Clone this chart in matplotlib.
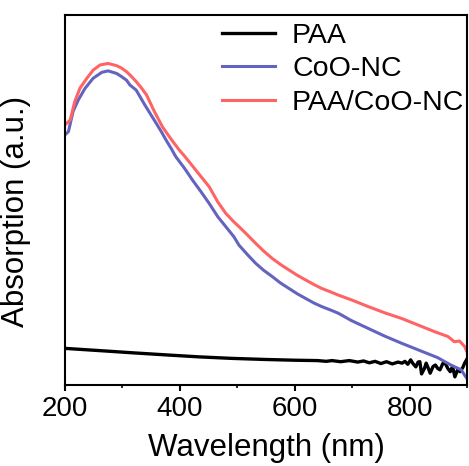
import numpy as np
import matplotlib
matplotlib.use('Agg')
import matplotlib.pyplot as plt
from matplotlib.ticker import MultipleLocator

plt.rcParams['font.family'] = ['Liberation Sans', 'DejaVu Sans']

# values (absorption in arbitrary units)
wl_paa = [200, 260, 318, 380, 434, 490, 549, 600, 640, 655, 665, 680, 695, 710,
          720, 730, 740, 750, 760, 770, 780, 787, 792, 797, 802, 806, 811, 815,
          818, 821, 826, 829, 832, 836, 841, 845, 849, 853, 858, 862, 867, 871,
          875, 879, 884, 888, 893, 896, 900]
abs_paa = [0.099, 0.093, 0.087, 0.081, 0.076, 0.072, 0.069, 0.067, 0.066, 0.064,
           0.066, 0.063, 0.066, 0.062, 0.065, 0.060, 0.064, 0.058, 0.063, 0.057,
           0.062, 0.059, 0.064, 0.056, 0.068, 0.058, 0.049, 0.062, 0.063, 0.030,
           0.045, 0.059, 0.048, 0.032, 0.050, 0.054, 0.045, 0.041, 0.058, 0.059,
           0.044, 0.036, 0.050, 0.022, 0.042, 0.036, 0.048, 0.059, 0.070]

wl_coo = [200, 206, 214, 223, 235, 249, 264, 275, 290, 298, 307, 313, 324, 339,
          351, 359, 368, 376, 385, 393, 408, 422, 437, 451, 466, 480, 494, 503,
          518, 532, 546, 561, 575, 590, 604, 619, 633, 647, 662, 676, 699, 728,
          757, 786, 815, 849, 872, 890, 898, 900]
abs_coo = [0.676, 0.685, 0.739, 0.770, 0.802, 0.829, 0.845, 0.849, 0.842, 0.834,
           0.824, 0.811, 0.797, 0.757, 0.727, 0.707, 0.684, 0.662, 0.639, 0.617,
           0.586, 0.554, 0.522, 0.491, 0.455, 0.428, 0.401, 0.378, 0.352, 0.329,
           0.310, 0.293, 0.276, 0.261, 0.247, 0.234, 0.222, 0.212, 0.203, 0.194,
           0.174, 0.153, 0.132, 0.113, 0.095, 0.074, 0.054, 0.041, 0.022, 0.018]

wl_mix = [200, 209, 217, 226, 238, 249, 261, 275, 290, 298, 307, 315, 324, 333,
          342, 356, 370, 385, 399, 408, 422, 437, 451, 466, 480, 494, 503,
          518, 532, 546, 561, 575, 590, 604, 619, 633, 647, 662, 676, 699, 728,
          757, 786, 815, 844, 867, 878, 887, 896, 900]
abs_mix = [0.703, 0.716, 0.766, 0.802, 0.829, 0.851, 0.865, 0.869, 0.863, 0.857,
           0.847, 0.835, 0.820, 0.803, 0.784, 0.738, 0.697, 0.664, 0.635, 0.619,
           0.592, 0.563, 0.536, 0.495, 0.464, 0.441, 0.428, 0.405, 0.383,
           0.362, 0.342, 0.326, 0.311, 0.297, 0.284, 0.272, 0.261, 0.252, 0.243,
           0.230, 0.212, 0.195, 0.180, 0.162, 0.144, 0.131, 0.117, 0.119, 0.104,
           0.090]

fig = plt.figure(figsize=(4.69, 4.66), dpi=100)
ax = fig.add_axes([0.1386, 0.1738, 0.857, 0.794])

ax.plot(wl_paa, abs_paa, color='black', lw=2.4, label='PAA')
ax.plot(wl_coo, abs_coo, color='#6464C0', lw=2.2, label='CoO-NC')
ax.plot(wl_mix, abs_mix, color='#FF6464', lw=2.2, label='PAA/CoO-NC')

ax.set_xlim(200, 900)
ax.set_ylim(0, 1)
ax.xaxis.set_major_locator(MultipleLocator(200))
ax.xaxis.set_minor_locator(MultipleLocator(100))
ax.set_yticks([])
ax.tick_params(axis='x', which='major', direction='out', length=4, width=1.5, labelsize=20, pad=4)
ax.tick_params(axis='x', which='minor', direction='out', length=2.5, width=1.2)
for s in ax.spines.values():
    s.set_linewidth(1.5)

ax.set_xlabel('Wavelength (nm)', fontsize=22.5, labelpad=8)
ax.set_ylabel('Absorption (a.u.)', fontsize=22.5, labelpad=6)
ax.yaxis.set_label_coords(-0.085, 0.468)

ax.legend(loc='upper right', frameon=False, fontsize=20.5, handlelength=1.85,
          handletextpad=0.6, labelspacing=0.27, borderaxespad=0.0,
          bbox_to_anchor=(1.022, 1.01))

fig.savefig('out.png', dpi=100)
